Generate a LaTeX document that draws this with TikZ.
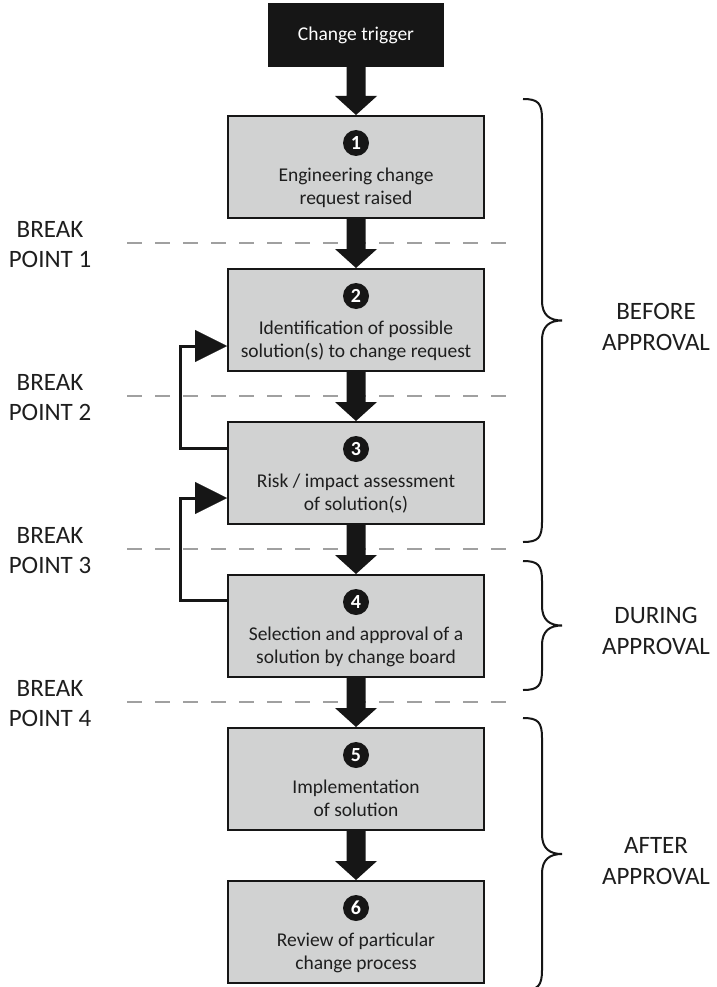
\documentclass[tikz,border=0pt]{standalone}
\usepackage{fontspec}
\setmainfont{Carlito}
\usetikzlibrary{arrows.meta,calc}

\definecolor{boxgray}{RGB}{209,210,210}
\definecolor{ink}{RGB}{22,22,22}
\definecolor{dashgray}{RGB}{160,160,160}
\definecolor{textgray}{RGB}{30,30,30}

% thick block arrow from the bottom of one node to the top of the next
\newcommand\fatarrow[2]{%
  \fill[ink] let \p1=(#1.south), \p2=(#2.north) in
    (\x1-9.5pt,\y1) -- (\x1+9.5pt,\y1) -- (\x1+9.5pt,\y2+19pt) --
    (\x1+21pt,\y2+19pt) -- (\x2,\y2) -- (\x1-21pt,\y2+19pt) --
    (\x1-9.5pt,\y2+19pt) -- cycle;}

% curly brace on the right, between top and bottom y
\newcommand\phasebrace[2]{%
  \pgfmathsetmacro\bt{#1}\pgfmathsetmacro\bb{#2}\pgfmathsetmacro\bm{(#1+#2)/2}%
  \draw[bracepen] (523,\bt) .. controls (538,\bt) and (542,\bt+4) .. (542,\bt+20)
    -- (542,\bm-20) .. controls (542,\bm-5) and (550,\bm) .. (562,\bm)
    .. controls (550,\bm) and (542,\bm+5) .. (542,\bm+20)
    -- (542,\bb-20) .. controls (542,\bb-4) and (538,\bb) .. (523,\bb);}

\begin{document}
\begin{tikzpicture}[x=1pt,y=-1pt,
  stagebox/.style={draw=ink, line width=2pt, fill=boxgray, minimum width=256pt,
    minimum height=102pt, inner sep=0pt},
  trigger/.style={fill=ink, minimum width=176pt, minimum height=64pt, inner sep=0pt,
    text=white, font=\fontsize{19.5}{23.5}\selectfont},
  numdot/.style={circle, fill=ink, text=white, minimum size=26pt, inner sep=0pt,
    font=\fontsize{20}{20}\selectfont\bfseries},
  stagetext/.style={align=center, anchor=base, inner sep=0pt, text=textgray,
    font=\fontsize{19.5}{23.5}\selectfont},
  breaklbl/.style={align=center, inner sep=0pt, text=textgray,
    font=\fontsize{25}{30}\selectfont},
  phaselbl/.style={align=center, inner sep=0pt, text=textgray,
    font=\fontsize{25}{31}\selectfont},
  breakline/.style={draw=dashgray, line width=2.4pt, dash pattern=on 15pt off 13pt},
  feedback/.style={draw=ink, line width=3pt,
    -{Triangle[length=32pt,width=32pt,line width=0.1pt]}},
  bracepen/.style={draw=ink, line width=2pt}
]
\useasboundingbox (0,0) rectangle (716,987);
\fill[white] (0,0) rectangle (716,987);

% break point lines
\foreach \yy in {243,396,549,702}
  \draw[breakline] (127,\yy) -- (515,\yy);

% break point labels
\node[breaklbl] (bp1) at (50,245) {BREAK\\POINT 1};
\node[breaklbl] (bp2) at (50,398) {BREAK\\POINT 2};
\node[breaklbl] (bp3) at (50,551) {BREAK\\POINT 3};
\node[breaklbl] (bp4) at (50,704) {BREAK\\POINT 4};

% trigger and stages
\node[trigger] (trig) at (356,35) {Change trigger};
\node[stagebox] (b1) at (356,167) {};
\node[stagebox] (b2) at (356,320) {};
\node[stagebox] (b3) at (356,473) {};
\node[stagebox] (b4) at (356,626) {};
\node[stagebox] (b5) at (356,779) {};
\node[stagebox] (b6) at (356,932) {};

\node[numdot] (n1) at (356,143) {1};
\node[numdot] (n2) at (356,296) {2};
\node[numdot] (n3) at (356,449) {3};
\node[numdot] (n4) at (356,602) {4};
\node[numdot] (n5) at (356,755) {5};
\node[numdot] (n6) at (356,908) {6};

% anchor=base sits on the last line's baseline
\node[stagetext] (t1) at (356,204.5) {Engineering change\\request raised};
\node[stagetext] (t2) at (356,357.5) {Identification of possible\\solution(s) to change request};
\node[stagetext] (t3) at (356,510.5) {Risk / impact assessment\\of solution(s)};
\node[stagetext] (t4) at (356,663.5) {Selection and approval of a\\solution by change board};
\node[stagetext] (t5) at (356,816.5) {Implementation\\of solution};
\node[stagetext] (t6) at (356,969.5) {Review of particular\\change process};

% main flow
\fatarrow{trig}{b1}
\fatarrow{b1}{b2}
\fatarrow{b2}{b3}
\fatarrow{b3}{b4}
\fatarrow{b4}{b5}
\fatarrow{b5}{b6}

% feedback loops
\coordinate (k3) at (180,448);
\coordinate (k4) at (180,600);
\draw[feedback] (b3.west |- k3) -- (k3) |- (b2.west |- 0,346);
\draw[feedback] (b4.west |- k4) -- (k4) |- (b3.west |- 0,498);

% approval phases
\phasebrace{99}{542}
\phasebrace{561}{690}
\phasebrace{718}{990}
\node[phaselbl] (before) at (656,327) {BEFORE\\APPROVAL};
\node[phaselbl] (during) at (656,631) {DURING\\APPROVAL};
\node[phaselbl] (after) at (656,861) {AFTER\\APPROVAL};
\end{tikzpicture}
\end{document}
